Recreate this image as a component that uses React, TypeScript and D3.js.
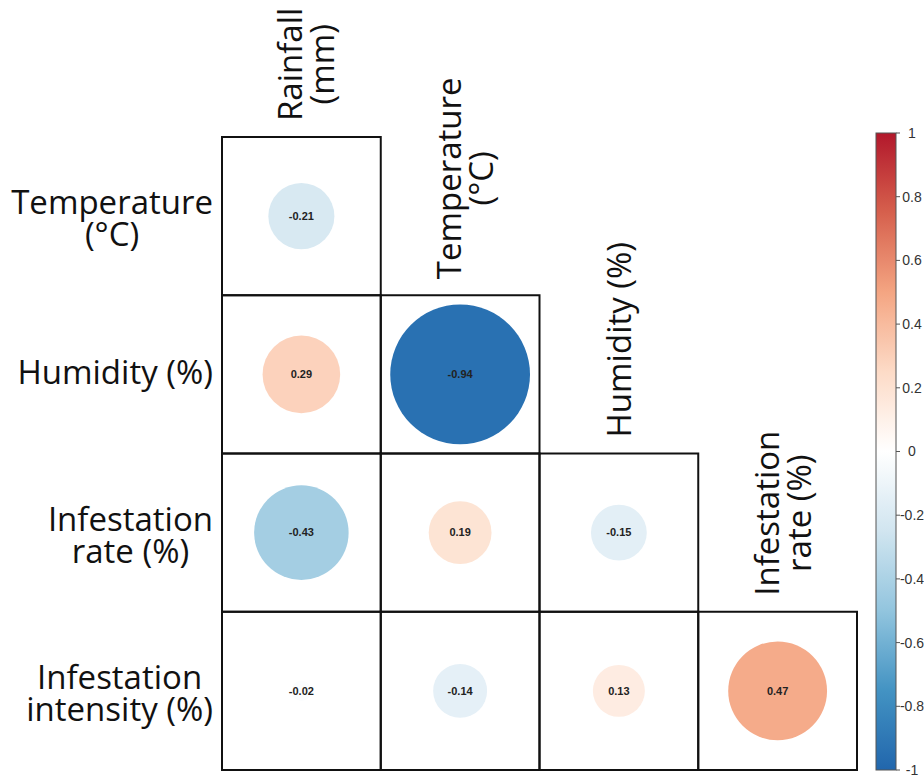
import React from "react";
import * as d3 from "d3";

// ---------- data ----------
const rowVariables = ["Temperature\n(°C)", "Humidity (%)", "Infestation\nrate (%)", "Infestation\nintensity (%)"];
const colVariables = ["Rainfall\n(mm)", "Temperature\n(°C)", "Humidity (%)", "Infestation\nrate (%)"];

const corrTemperature = [-0.21];
const corrHumidity = [0.29, -0.94];
const corrInfestationRate = [-0.43, 0.19, -0.15];
const corrInfestationIntensity = [-0.02, -0.14, 0.13, 0.47];
const corrRows = [corrTemperature, corrHumidity, corrInfestationRate, corrInfestationIntensity];

const colorbarTicks = [1, 0.8, 0.6, 0.4, 0.2, 0, -0.2, -0.4, -0.6, -0.8, -1];
const paletteStops = [-1, -0.75, -0.5, -0.25, 0, 0.25, 0.5, 0.75, 1];
const paletteColors = ["#2166AC", "#4393C3", "#92C5DE", "#D1E5F0", "#FFFFFF", "#FDDBC7", "#F4A582", "#D6604D", "#B2182B"];

// ---------- layout ----------
const W = 924;
const H = 778;
const LABEL_FONT = "'Open Sans', 'Noto Sans', sans-serif";
const LABEL_SIZE = 33;
const LINE_GAP = 32;

let measureCtx: CanvasRenderingContext2D | null = null;
function textWidth(s: string): number {
  if (!measureCtx) {
    const c = document.createElement("canvas");
    measureCtx = c.getContext("2d");
  }
  if (!measureCtx) return s.length * LABEL_SIZE * 0.55;
  measureCtx.font = `${LABEL_SIZE}px 'Open Sans'`;
  return measureCtx.measureText(s).width;
}

export default function App() {
  const idx = [0, 1, 2, 3];
  const x = d3.scaleBand<number>().domain(idx).range([222, 857]).padding(0);
  const y = d3.scaleBand<number>().domain(idx).range([137, 770]).padding(0);
  const bw = x.bandwidth();
  const bh = y.bandwidth();
  const rScale = d3.scaleSqrt().domain([0, 1]).range([0, bw * 0.454]);
  const color = d3.scaleLinear<string>().domain(paletteStops).range(paletteColors).interpolate(d3.interpolateRgb);

  const cbY = d3.scaleLinear().domain([-1, 1]).range([770, 133]);
  const cbX0 = 876;
  const cbW = 20;

  const rowLabelRight = 213;

  return (
    <svg width={W} height={H} style={{ position: "absolute", left: 0, top: 0, background: "#fff" }}>
      <defs>
        <linearGradient id="cbGrad" x1="0" y1="1" x2="0" y2="0">
          {d3.range(0, 41).map((k) => {
            const v = -1 + (2 * k) / 40;
            return <stop key={k} offset={`${(k / 40) * 100}%`} stopColor={color(v)} />;
          })}
        </linearGradient>
      </defs>

      {/* row labels */}
      {rowVariables.map((lab, i) => {
        const lines = lab.split("\n");
        const maxW = d3.max(lines, (l) => textWidth(l)) ?? 0;
        const cx = rowLabelRight - maxW / 2;
        const cy = (y(i) ?? 0) + bh / 2;
        const base = lines.length === 1 ? cy + 10 : cy - 2;
        return (
          <text key={"r" + i} fontFamily={LABEL_FONT} fontSize={LABEL_SIZE} fill="#111" textAnchor="middle">
            {lines.map((l, k) => (
              <tspan key={k} x={cx} y={base + k * LINE_GAP}>{l}</tspan>
            ))}
          </text>
        );
      })}

      {/* column labels (rotated) */}
      {colVariables.map((lab, j) => {
        const lines = lab.split("\n");
        const maxW = d3.max(lines, (l) => textWidth(l)) ?? 0;
        const cx = (x(j) ?? 0) + bw / 2;
        const topY = (y(j) ?? 0) - 16;
        const centerAlong = topY - maxW / 2;
        const base = lines.length === 1 ? cx + 12 : cx + 1;
        return (
          <g key={"c" + j} transform={`translate(${base},${centerAlong}) rotate(-90)`}>
            <text fontFamily={LABEL_FONT} fontSize={LABEL_SIZE} fill="#111" textAnchor="middle">
              {lines.map((l, k) => (
                <tspan key={k} x={0} y={k * LINE_GAP}>{l}</tspan>
              ))}
            </text>
          </g>
        );
      })}

      {/* cells */}
      {corrRows.map((vals, i) =>
        vals.map((v, j) => {
          const x0 = x(j) ?? 0;
          const y0 = y(i) ?? 0;
          return (
            <g key={`cell-${i}-${j}`}>
              <rect x={x0} y={y0} width={bw} height={bh} fill="none" stroke="#111" strokeWidth={2} />
              <circle cx={x0 + bw / 2} cy={y0 + bh / 2} r={rScale(Math.abs(v))} fill={color(v)} />
              <text
                x={x0 + bw / 2}
                y={y0 + bh / 2}
                dy="0.35em"
                textAnchor="middle"
                fontFamily="'Liberation Sans', Arial, sans-serif"
                fontWeight="bold"
                fontSize={11}
                fill="#222"
              >
                {v.toFixed(2)}
              </text>
            </g>
          );
        })
      )}

      {/* colorbar */}
      <rect x={cbX0} y={cbY(1)} width={cbW} height={cbY(-1) - cbY(1)} fill="url(#cbGrad)" stroke="#555" strokeWidth={1} />
      {colorbarTicks.map((t) => (
        <g key={"t" + t}>
          <line x1={cbX0 + cbW} x2={cbX0 + cbW + 4} y1={cbY(t)} y2={cbY(t)} stroke="#555" strokeWidth={1} />
          <text
            x={cbX0 + cbW + 16}
            y={cbY(t)}
            dy="0.35em"
            textAnchor="middle"
            fontFamily="'Liberation Sans', Arial, sans-serif"
            fontSize={14}
            fill="#333"
          >
            {String(t)}
          </text>
        </g>
      ))}
    </svg>
  );
}
